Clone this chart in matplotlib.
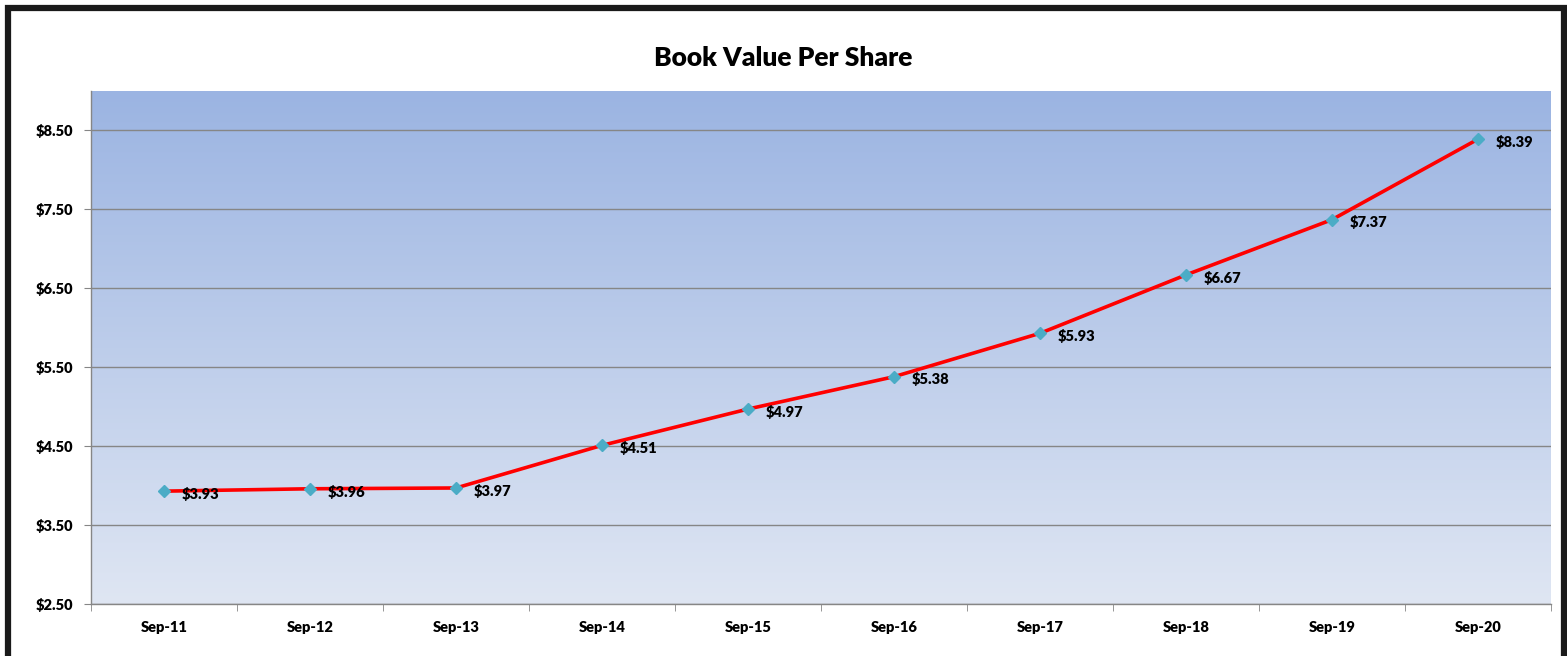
import matplotlib
matplotlib.use("Agg")
import matplotlib.pyplot as plt
import numpy as np
from matplotlib.patches import Rectangle
from matplotlib.colors import LinearSegmentedColormap

categories = ["Sep-11", "Sep-12", "Sep-13", "Sep-14", "Sep-15", "Sep-16", "Sep-17", "Sep-18", "Sep-19", "Sep-20"]
values = [3.93, 3.96, 3.97, 4.51, 4.97, 5.38, 5.93, 6.67, 7.37, 8.39]
yticks = [2.5, 3.5, 4.5, 5.5, 6.5, 7.5, 8.5]
title = "Book Value Per Share"

plt.rcParams['font.family'] = ['Lato', 'DejaVu Sans']

W, H = 1567, 656
fig = plt.figure(figsize=(W / 100, H / 100), dpi=100)
fig.patch.set_facecolor("white")

# outer border
fig.patches.append(Rectangle((7.5 / W, -0.1), (1563.5 - 7.5) / W, (H - 7.5) / H + 0.1,
                             transform=fig.transFigure, fill=False, edgecolor="#1a1a1a", linewidth=4.5))

left, right, top, bottom = 91, 1551, 91, 604
ax = fig.add_axes([left / W, 1 - bottom / H, (right - left) / W, (bottom - top) / H])

n = len(categories)
x = np.arange(n)
ax.set_xlim(-0.5, n - 0.5)
ax.set_ylim(2.5, 9.0)

# gradient background
cmap = LinearSegmentedColormap.from_list("bg", ["#dfe6f3", "#9bb4e2"])
grad = np.linspace(0, 1, 256).reshape(-1, 1)
ax.imshow(grad, aspect="auto", cmap=cmap, origin="lower",
          extent=[0, 1, 0, 1], transform=ax.transAxes, zorder=0)

ax.set_yticks(yticks)
ax.set_yticklabels([f"${v:.2f}" for v in yticks])
ax.yaxis.grid(True, color="#868686", linewidth=1.0, zorder=1)
ax.set_axisbelow(True)

ax.set_xticks(x)
ax.set_xticklabels(categories)
ax.set_xticks(np.arange(-0.5, n, 1.0), minor=True)
ax.tick_params(axis="x", which="major", length=0, pad=12)
ax.tick_params(axis="x", which="minor", length=5, color="#868686", direction="out")
ax.tick_params(axis="y", length=5, color="#868686", direction="out", pad=8)
for lbl in ax.get_xticklabels() + ax.get_yticklabels():
    lbl.set_fontsize(10.5)
    lbl.set_fontweight("heavy")
    lbl.set_color("black")

for s in ["top", "right"]:
    ax.spines[s].set_visible(False)
for s in ["left", "bottom"]:
    ax.spines[s].set_color("#868686")
    ax.spines[s].set_linewidth(1.0)

ax.plot(x, values, color="#ff0000", linewidth=2.6, zorder=3, solid_capstyle="round")
ax.plot(x, values, linestyle="none", marker="D", markersize=6.5,
        color="#4bacc6", markeredgecolor="#4bacc6", zorder=4)

for xi, v in zip(x, values):
    ax.annotate(f"${v:.2f}", (xi, v), xytext=(13, -2), textcoords="offset points",
                ha="left", va="center", fontsize=10.5, fontweight="heavy", color="black", zorder=5)

fig.text(W / 2 / W, 1 - 58 / H, title, ha="center", va="center",
         fontsize=19, fontweight="heavy", color="black")

fig.savefig("out.png", dpi=100)
